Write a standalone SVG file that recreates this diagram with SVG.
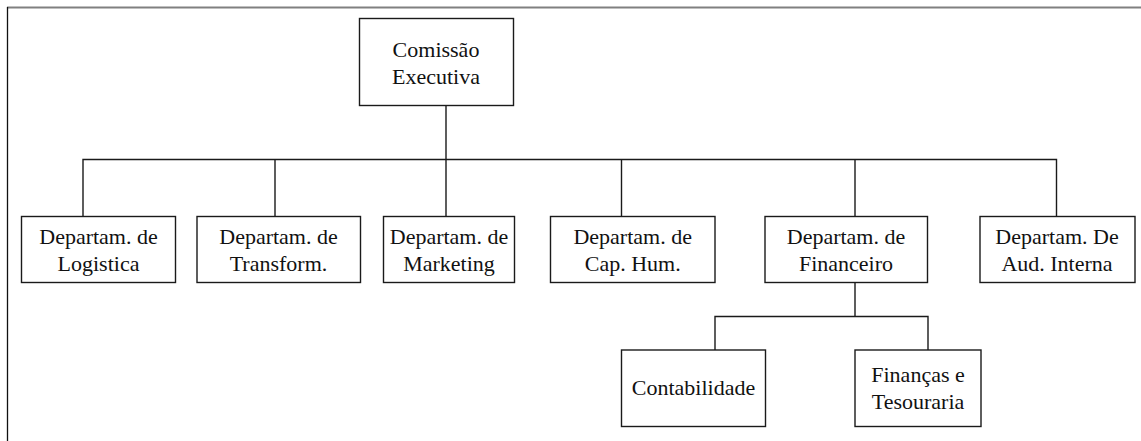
<svg xmlns="http://www.w3.org/2000/svg" width="1141" height="441" viewBox="0 0 1141 441">
<style>
.box{fill:#fff;stroke:#1a1a1a;stroke-width:1.4}
.ln{fill:none;stroke:#1a1a1a;stroke-width:1.4}
text{font-family:"Liberation Serif","Times New Roman",serif;font-size:22px;fill:#111;text-anchor:middle}
</style>
<rect x="0" y="0" width="1141" height="441" fill="#fff"/>
<g id="frame">
<line x1="7" y1="7.5" x2="1141" y2="7.5" stroke="#808080" stroke-width="1.8"/>
<line x1="7.5" y1="7" x2="7.5" y2="441" stroke="#111" stroke-width="1.3"/>
</g>
<g id="connectors">
<path class="ln" d="M446 105.5V159.5M83 216.5V159.5H1056.5V216.5M275 159.5V216.5M446 159.5V216.5M621.5 159.5V216.5M855 159.5V216.5"/>
<path class="ln" d="M855 282.5V316.5M715 350V316.5H928V350"/>
</g>
<g id="n-comissao">
<rect class="box" x="359.5" y="18.5" width="154" height="87"/>
<text x="436" y="57">Comissão</text>
<text x="436" y="84">Executiva</text>
</g>
<g id="n-logistica">
<rect class="box" x="21.5" y="216.5" width="154" height="66"/>
<text x="98.5" y="243.5">Departam. de</text>
<text x="98.5" y="271">Logistica</text>
</g>
<g id="n-transform">
<rect class="box" x="197" y="216.5" width="163.5" height="66"/>
<text x="278.5" y="243.5">Departam. de</text>
<text x="278.5" y="271">Transform.</text>
</g>
<g id="n-marketing">
<rect class="box" x="383.5" y="216.5" width="131" height="66"/>
<text x="449" y="243.5">Departam. de</text>
<text x="449" y="271">Marketing</text>
</g>
<g id="n-caphum">
<rect class="box" x="550.5" y="216.5" width="164.5" height="66"/>
<text x="632.7" y="243.5">Departam. de</text>
<text x="632.7" y="271">Cap. Hum.</text>
</g>
<g id="n-financeiro">
<rect class="box" x="765" y="216.5" width="162.5" height="66"/>
<text x="846" y="243.5">Departam. de</text>
<text x="846" y="271">Financeiro</text>
</g>
<g id="n-auditoria">
<rect class="box" x="980" y="216.5" width="155" height="66"/>
<text x="1057" y="243.5">Departam. De</text>
<text x="1057" y="271">Aud. Interna</text>
</g>
<g id="n-contabilidade">
<rect class="box" x="621.5" y="350" width="144" height="76.5"/>
<text x="693.5" y="395">Contabilidade</text>
</g>
<g id="n-financas">
<rect class="box" x="855" y="350" width="126" height="76.5"/>
<text x="918" y="381.5">Finanças e</text>
<text x="918" y="409">Tesouraria</text>
</g>
</svg>
